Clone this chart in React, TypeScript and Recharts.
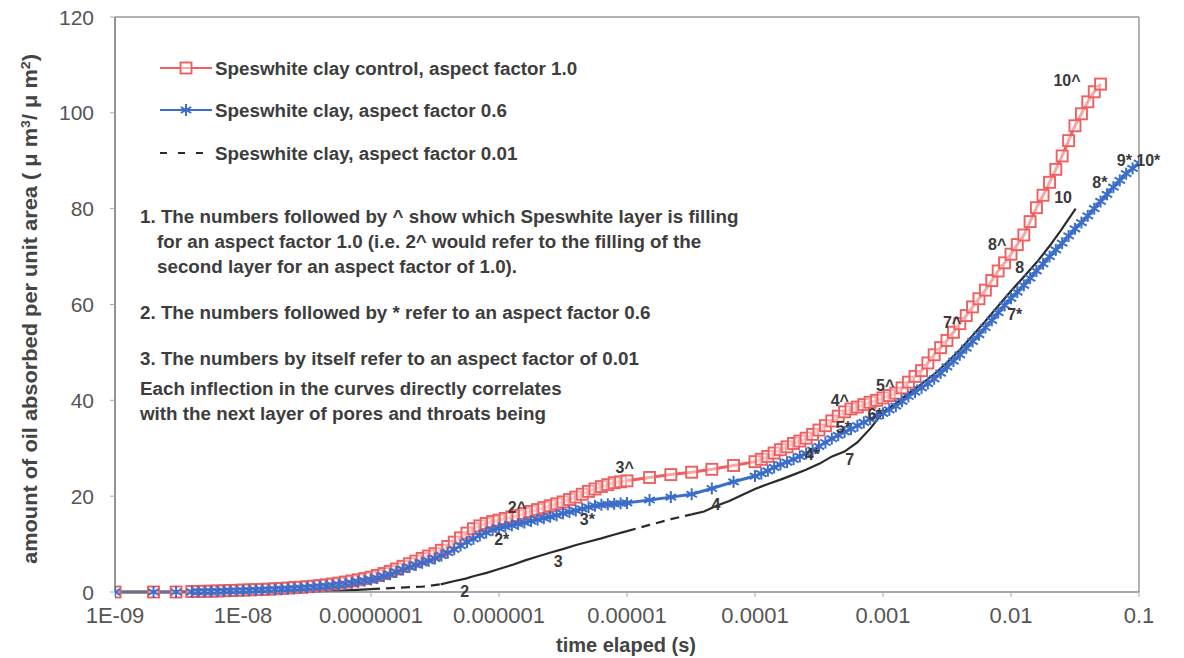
import React from 'react';
import { LineChart, Line, XAxis, YAxis, ReferenceLine, ReferenceDot } from 'recharts';

// Output times of the simulation (s), shared by the factor 1.0 and factor 0.6 runs
const elapsedTime = [
  1e-9, 2e-9, 3e-9, 3.98e-9, 4.47e-9, 5.01e-9, 5.62e-9, 6.31e-9, 7.08e-9, 7.94e-9, 8.91e-9,
  1e-8, 1.12e-8, 1.26e-8, 1.41e-8, 1.58e-8, 1.78e-8, 2e-8, 2.24e-8, 2.51e-8, 2.82e-8,
  3.16e-8, 3.55e-8, 3.98e-8, 4.47e-8, 5.01e-8, 5.62e-8, 6.31e-8, 7.08e-8, 7.94e-8, 8.91e-8,
  1e-7, 1.12e-7, 1.26e-7, 1.41e-7, 1.58e-7, 1.78e-7, 2e-7, 2.24e-7, 2.51e-7, 2.82e-7,
  3.16e-7, 3.55e-7, 3.98e-7, 4.47e-7, 5.01e-7, 5.62e-7, 6.31e-7, 7.08e-7, 7.94e-7, 8.91e-7,
  1e-6, 1.12e-6, 1.26e-6, 1.41e-6, 1.58e-6, 1.78e-6, 2e-6, 2.24e-6, 2.51e-6, 2.82e-6,
  3.16e-6, 3.55e-6, 3.98e-6, 4.47e-6, 5.01e-6, 5.62e-6, 6.31e-6, 7.08e-6, 7.94e-6, 8.91e-6,
  1e-5, 1.5e-5, 2.2e-5, 3.2e-5, 4.6e-5, 6.8e-5,
  1e-4, 1.12e-4, 1.26e-4, 1.41e-4, 1.58e-4, 1.78e-4, 2e-4, 2.24e-4, 2.51e-4, 2.82e-4,
  3.16e-4, 3.55e-4, 3.98e-4, 4.47e-4, 5.01e-4, 5.62e-4, 6.31e-4, 7.08e-4, 7.94e-4, 8.91e-4,
  1e-3, 1.12e-3, 1.26e-3, 1.41e-3, 1.58e-3, 1.78e-3, 2e-3, 2.24e-3, 2.51e-3, 2.82e-3,
  3.16e-3, 3.55e-3, 3.98e-3, 4.47e-3, 5.01e-3, 5.62e-3, 6.31e-3, 7.08e-3, 7.94e-3, 8.91e-3,
  1e-2, 1.12e-2, 1.26e-2, 1.41e-2, 1.58e-2, 1.78e-2, 2e-2, 2.24e-2, 2.51e-2, 2.82e-2,
  3.16e-2, 3.55e-2, 3.98e-2, 4.47e-2, 5.01e-2, 5.62e-2, 6.31e-2, 7.08e-2, 7.94e-2, 8.91e-2,
  1e-1,
];

// Speswhite clay control, aspect factor 1.0 (run stops at 5e-2 s)
const controlAmount = [
  0, 0, 0, 0.1, 0.12, 0.15, 0.18, 0.22, 0.26, 0.3, 0.35,
  0.4, 0.45, 0.5, 0.55, 0.6, 0.67, 0.75, 0.83, 0.92, 1.0,
  1.1, 1.22, 1.35, 1.5, 1.68, 1.87, 2.08, 2.3, 2.55, 2.8,
  3.1, 3.45, 3.85, 4.3, 4.8, 5.35, 5.9, 6.45, 7.0, 7.5,
  8.0, 8.7, 9.5, 10.4, 11.3, 12.3, 13.2, 13.8, 14.3, 14.7,
  15.0, 15.35, 15.7, 16.0, 16.4, 16.8, 17.2, 17.6, 18.0, 18.4,
  18.8, 19.3, 19.8, 20.4, 21.0, 21.5, 22.0, 22.4, 22.8, 23.0,
  23.2, 23.9, 24.5, 25.0, 25.6, 26.4,
  27.2, 27.7, 28.3, 29.0, 29.7, 30.3, 31.0, 31.5, 32.1, 32.9,
  33.8, 34.7, 35.7, 36.7, 37.6, 38.2, 38.6, 39.1, 39.6, 40.0,
  40.5, 41.0, 41.5, 42.6, 43.8, 45.0, 46.2, 47.8, 49.5, 51.0,
  52.5, 54.2, 56.0, 57.7, 59.5, 61.2, 63.0, 65.0, 67.0, 68.7,
  70.5, 72.5, 74.5, 77.3, 80.2, 82.8, 85.5, 88.2, 91.0, 94.2,
  97.3, 99.8, 102.3, 104.4, 106,
];

// Speswhite clay, aspect factor 0.6
const factor06Amount = [
  0, 0, 0, 0.05, 0.07, 0.1, 0.12, 0.15, 0.18, 0.22, 0.26,
  0.3, 0.34, 0.38, 0.42, 0.47, 0.53, 0.6, 0.67, 0.75, 0.83,
  0.92, 1.02, 1.13, 1.25, 1.4, 1.55, 1.72, 1.92, 2.15, 2.38,
  2.6, 2.9, 3.3, 3.7, 4.2, 4.7, 5.2, 5.65, 6.1, 6.5,
  7.0, 7.6, 8.2, 8.9, 9.7, 10.4, 11.1, 11.8, 12.4, 12.9,
  13.3, 13.6, 13.9, 14.2, 14.5, 14.8, 15.1, 15.4, 15.7, 16.0,
  16.4, 16.7, 17.0, 17.35, 17.7, 18.0, 18.2, 18.3, 18.4, 18.5,
  18.6, 19.2, 19.8, 20.4, 21.6, 23.0,
  24.2, 24.7, 25.3, 26.0, 26.6, 27.1, 27.7, 28.3, 28.9, 29.6,
  30.4, 31.2, 32.0, 32.7, 33.4, 34.0, 34.7, 35.4, 36.1, 36.7,
  37.3, 38.0, 38.8, 39.8, 40.8, 41.7, 42.6, 43.5, 44.5, 45.7,
  47, 48.2, 49.5, 50.9, 52.3, 53.7, 55.2, 56.7, 58.3, 59.8,
  61.3, 62.6, 64, 65.5, 67, 68.5, 70, 71.4, 72.8, 74.3,
  75.8, 77.1, 78.5, 80, 81.5, 83, 84.5, 85.9, 87.3, 88.4,
  89.5,
];

// Speswhite clay, aspect factor 0.01
const factor001Time = [
  1e-9, 1e-8, 3e-8, 6e-8,
  1e-7, 1.6e-7, 2.5e-7, 3.5e-7, 4.5e-7, 5.5e-7, 6.3e-7, 8e-7,
  1e-6, 1.25e-6, 1.6e-6, 2e-6, 2.5e-6, 3.2e-6, 4e-6, 5e-6, 6.3e-6, 8e-6,
  1e-5, 1.5e-5, 2.2e-5, 3.2e-5, 4e-5, 5e-5, 6.3e-5, 8e-5,
  1e-4, 1.25e-4, 1.6e-4, 2e-4, 2.5e-4, 3.2e-4, 4e-4, 5e-4, 6.3e-4, 8e-4,
  1e-3, 1.25e-3, 1.6e-3, 2e-3, 2.5e-3, 3.2e-3, 4e-3, 5e-3, 6.3e-3, 8e-3,
  1e-2, 1.25e-2, 1.6e-2, 2e-2, 2.5e-2, 3.2e-2,
];
const factor001Amount = [
  0, 0, 0.1, 0.3,
  0.6, 0.9, 1.1, 1.6, 2.3, 2.8, 3.3, 4.0,
  4.8, 5.6, 6.6, 7.4, 8.2, 9.0, 9.8, 10.5, 11.2, 12.0,
  12.7, 14.0, 15.2, 16.2, 16.8, 18.0, 19.0, 20.3,
  21.5, 22.5, 23.5, 24.5, 25.5, 26.8, 28.3, 29.3, 31.2, 34.2,
  37.5, 39.3, 41.5, 43.4, 45.4, 48.0, 50.6, 53.5, 56.5, 59.8,
  62.8, 65.7, 68.9, 72.2, 75.8, 80,
];
// stretches of the 0.01 curve where the time steps are long enough for the dashes to show
const factor001DashedSpans = [
  [1e-7, 3.5e-7],
  [1e-5, 3.2e-5],
];

const timeTicks = [1e-9, 1e-8, 1e-7, 1e-6, 1e-5, 1e-4, 1e-3, 1e-2, 1e-1];
const timeTickLabels = ['1E-09', '1E-08', '0.0000001', '0.000001', '0.00001', '0.0001', '0.001', '0.01', '0.1'];
const amountTicks = [0, 20, 40, 60, 80, 100, 120];

// layer filling markers: ^ = factor 1.0, * = factor 0.6, plain = factor 0.01
const layerText = ['2^', '2*', '3^', '3*', '3', '2', '4', '4^', '4*', '5*', '5^', '6*', '7', '7^', '7*', '8^', '8', '10', '8*', '9* 10*', '10^'];
const layerTime = [1.38e-6, 1.05e-6, 9.6e-6, 4.9e-6, 2.9e-6, 5.4e-7, 4.95e-5, 4.6e-4, 2.8e-4, 4.9e-4, 1.04e-3, 8.66e-4, 5.5e-4, 3.46e-3, 0.0107, 7.8e-3, 0.0117, 0.0255, 0.0495, 0.067, 0.0274];
const layerAmount = [17.7, 11, 26, 15.2, 6.5, 0.2, 18.3, 40, 28.7, 34.4, 43.1, 37.1, 27.8, 56.2, 57.9, 72.5, 67.7, 82.3, 85.6, 90.2, 106.9];

const legendNames = [
  'Speswhite clay control, aspect factor 1.0',
  'Speswhite clay, aspect factor 0.6',
  'Speswhite clay, aspect factor 0.01',
];
const noteLines = [
  '1. The numbers followed by ^ show which Speswhite layer is filling',
  'for an aspect factor 1.0 (i.e. 2^ would refer to the filling of the',
  'second layer for an aspect factor of 1.0).',
  '2. The numbers followed by * refer to an aspect factor 0.6',
  '3. The numbers by itself refer to an aspect factor of 0.01',
  'Each inflection in the curves directly correlates',
  'with the next layer of pores and throats being',
];

const RED = '#ee5f60';
const BLUE = '#3b6dc9';
const BLACK = '#2b2b2b';
const FONT = '"Liberation Sans", Arial, Helvetica, sans-serif';

const controlData = controlAmount.map((v, i) => ({ t: elapsedTime[i], v }));
const factor06Data = factor06Amount.map((v, i) => ({ t: elapsedTime[i], v }));
const insideSpan = (t: number) => factor001DashedSpans.some(([a, b]) => t > a && t < b);
const onSpan = (t: number) => factor001DashedSpans.some(([a, b]) => t >= a && t <= b);
const factor001Solid = factor001Time.map((t, i) => ({ t, v: insideSpan(t) ? null : factor001Amount[i] }));
const factor001Dashed = factor001Time.map((t, i) => ({ t, v: onSpan(t) ? factor001Amount[i] : null }));

const squareAt = (cx: number, cy: number, key?: string) => (
  <rect key={key} x={cx - 5.5} y={cy - 5.5} width={11} height={11} fill="#fff" fillOpacity={0.45} stroke={RED} strokeWidth={1.9} />
);
const starAt = (cx: number, cy: number, key?: string) => (
  <g key={key} stroke={BLUE} strokeWidth={2}>
    <line x1={cx} y1={cy - 6} x2={cx} y2={cy + 6} />
    <line x1={cx - 5.2} y1={cy - 3} x2={cx + 5.2} y2={cy + 3} />
    <line x1={cx - 5.2} y1={cy + 3} x2={cx + 5.2} y2={cy - 3} />
  </g>
);

const SquareDot = (p: any) => (p.cx == null || p.cy == null ? <g key={`s${p.index}`} /> : squareAt(p.cx, p.cy, `s${p.index}`));
const StarDot = (p: any) => (p.cx == null || p.cy == null ? <g key={`a${p.index}`} /> : starAt(p.cx, p.cy, `a${p.index}`));

const TimeTick = (p: any) => {
  const idx = timeTicks.findIndex((v) => Math.abs(Math.log10(v) - Math.log10(p.payload.value)) < 1e-6);
  return (
    <text x={p.x} y={p.y + 24} textAnchor="middle" fontSize={22} fill="#555" fontFamily={FONT}>
      {idx >= 0 ? timeTickLabels[idx] : ''}
    </text>
  );
};
const AmountTick = (p: any) => (
  <text x={p.x - 14} y={p.y} dy="0.36em" textAnchor="end" fontSize={21} fill="#555" fontFamily={FONT}>
    {p.payload.value}
  </text>
);

export default function App() {
  return (
    <div style={{ position: 'absolute', left: 0, top: 0, width: 1184, height: 658, background: '#fff' }}>
      <LineChart width={1184} height={658} margin={{ top: 17, right: 45, bottom: 26, left: 55 }}>
        <XAxis
          type="number"
          dataKey="t"
          scale="log"
          domain={[1e-9, 1e-1]}
          allowDataOverflow
          ticks={timeTicks}
          interval={0}
          height={40}
          tickSize={5}
          axisLine={{ stroke: '#8a8a8a', strokeWidth: 1.5 }}
          tickLine={{ stroke: '#aaa' }}
          tick={(p: any) => <TimeTick key={`tt${p.index}`} {...p} />}
        />
        <YAxis
          type="number"
          domain={[0, 120]}
          ticks={amountTicks}
          interval={0}
          width={60}
          tickSize={5}
          axisLine={{ stroke: '#6f6f6f', strokeWidth: 1.5 }}
          tickLine={{ stroke: '#aaa' }}
          tick={(p: any) => <AmountTick key={`at${p.index}`} {...p} />}
        />
        <ReferenceLine y={120} stroke="#9a9a9a" strokeWidth={1.5} />
        <ReferenceLine x={0.1} stroke="#9a9a9a" strokeWidth={1.5} />

        <Line data={controlData} dataKey="v" name={legendNames[0]} type="linear" stroke={RED} strokeWidth={3} dot={SquareDot} isAnimationActive={false} />
        <Line data={factor06Data} dataKey="v" name={legendNames[1]} type="linear" stroke={BLUE} strokeWidth={3} dot={StarDot} isAnimationActive={false} />
        <Line data={factor001Solid} dataKey="v" name={legendNames[2]} type="linear" stroke={BLACK} strokeWidth={2.2} dot={false} isAnimationActive={false} />
        <Line data={factor001Dashed} dataKey="v" name={legendNames[2]} type="linear" stroke={BLACK} strokeWidth={2.2} strokeDasharray="9 6" dot={false} legendType="none" isAnimationActive={false} />

        {layerText.map((txt, i) => (
          <ReferenceDot
            key={`lbl${i}`}
            x={layerTime[i]}
            y={layerAmount[i]}
            ifOverflow="visible"
            shape={(p: any) => (
              <text
                x={p.cx}
                y={p.cy}
                dy="0.36em"
                textAnchor={txt === '9* 10*' ? 'start' : 'middle'}
                fontSize={16}
                fontWeight="bold"
                fill="#3a3a3a"
                fontFamily={FONT}
              >
                {txt}
              </text>
            )}
          />
        ))}
      </LineChart>

      <svg width={1184} height={658} style={{ position: 'absolute', left: 0, top: 0, pointerEvents: 'none' }}>
        <g fontFamily={FONT} fontWeight="bold" fill="#3d3d3d" fontSize={18.8}>
          {/* legend */}
          <line x1={160} y1={68} x2={212} y2={68} stroke={RED} strokeWidth={2} />
          {squareAt(186, 68)}
          <text x={215} y={68} dy="0.36em">{legendNames[0]}</text>
          <line x1={160} y1={110} x2={212} y2={110} stroke={BLUE} strokeWidth={2} />
          {starAt(186, 110)}
          <text x={215} y={110} dy="0.36em">{legendNames[1]}</text>
          <line x1={160} y1={153} x2={212} y2={153} stroke={BLACK} strokeWidth={2} strokeDasharray="7 11" />
          <text x={215} y={153} dy="0.36em">{legendNames[2]}</text>

          {/* notes */}
          <text x={140} y={216} dy="0.36em">{noteLines[0]}</text>
          <text x={157} y={241} dy="0.36em">{noteLines[1]}</text>
          <text x={157} y={266} dy="0.36em">{noteLines[2]}</text>
          <text x={140} y={312} dy="0.36em">{noteLines[3]}</text>
          <text x={140} y={358} dy="0.36em">{noteLines[4]}</text>
          <text x={140} y={388} dy="0.36em">{noteLines[5]}</text>
          <text x={140} y={413} dy="0.36em">{noteLines[6]}</text>

          {/* axis titles */}
          <text x={626} y={645} dy="0.36em" textAnchor="middle" fontSize={20} fill="#444">time elaped (s)</text>
          <text x={0} y={0} dy="0.36em" textAnchor="middle" fontSize={20} fill="#444" textLength={510} lengthAdjust="spacingAndGlyphs" transform="translate(30 309) rotate(-90)">
            amount of oil absorbed per unit area ( μ m
            <tspan dy="-7" fontSize={13}>3</tspan>
            <tspan dy="7">/ μ m</tspan>
            <tspan dy="-7" fontSize={13}>2</tspan>
            <tspan dy="7">)</tspan>
          </text>
        </g>
      </svg>
    </div>
  );
}
